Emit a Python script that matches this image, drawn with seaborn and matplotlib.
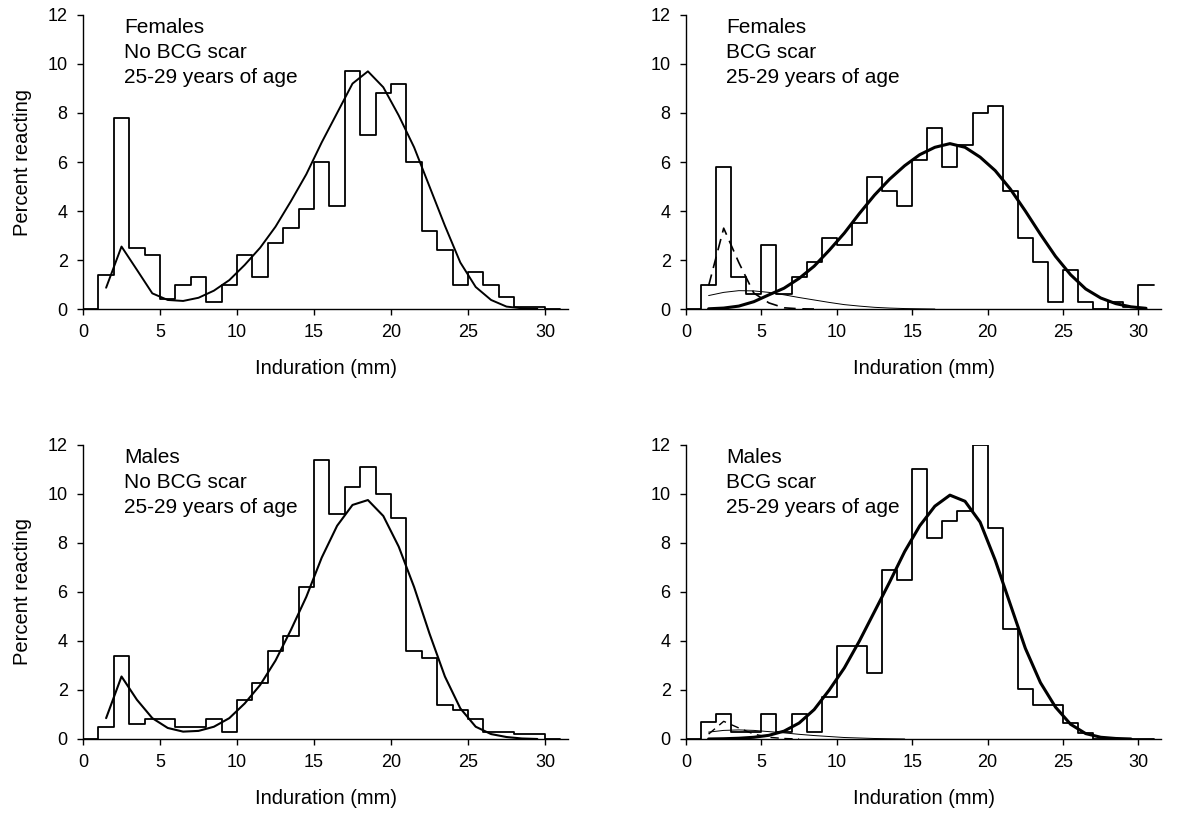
import numpy as np
import pandas as pd
import matplotlib
matplotlib.use("Agg")
import matplotlib.pyplot as plt
import seaborn as sns

# Histogram bins: lower edge of each 1 mm class (0..30)
bin_lower = [0, 1, 2, 3, 4, 5, 6, 7, 8, 9, 10, 11, 12, 13, 14, 15,
             16, 17, 18, 19, 20, 21, 22, 23, 24, 25, 26, 27, 28, 29, 30]

# Percent reacting per bin
f_noscar = [0, 1.4, 7.8, 2.5, 2.2, 0.4, 1.0, 1.3, 0.3, 1.0, 2.2, 1.3, 2.7, 3.3, 4.1, 6.0,
            4.2, 9.7, 7.1, 8.8, 9.2, 6.0, 3.2, 2.4, 1.0, 1.5, 1.0, 0.5, 0.1, 0.1, 0]
f_scar = [0, 1.0, 5.8, 1.3, 0.6, 2.6, 0.6, 1.3, 1.9, 2.9, 2.6, 3.5, 5.4, 4.8, 4.2, 6.1,
          7.4, 5.8, 6.7, 8.0, 8.3, 4.8, 2.9, 1.9, 0.3, 1.6, 0.3, 0, 0.3, 0.1, 1.0]
m_noscar = [0, 0.5, 3.4, 0.6, 0.8, 0.8, 0.5, 0.5, 0.8, 0.3, 1.6, 2.3, 3.6, 4.2, 6.2, 11.4,
            9.2, 10.3, 11.1, 10.0, 9.0, 3.6, 3.3, 1.4, 1.2, 0.8, 0.3, 0.3, 0.2, 0.2, 0]
m_scar = [0, 0.7, 1.0, 0.3, 0.3, 1.0, 0.3, 1.0, 0.3, 1.7, 3.8, 3.8, 2.7, 6.9, 6.5, 11.0,
          8.2, 8.9, 9.3, 12.0, 8.6, 4.5, 2.05, 1.4, 1.4, 0.65, 0.25, 0, 0, 0, 0]

# Fitted curves, evaluated at class midpoints
mid_mm = [1.5, 2.5, 3.5, 4.5, 5.5, 6.5, 7.5, 8.5, 9.5, 10.5, 11.5, 12.5, 13.5, 14.5, 15.5,
          16.5, 17.5, 18.5, 19.5, 20.5, 21.5, 22.5, 23.5, 24.5, 25.5, 26.5, 27.5, 28.5, 29.5, 30.5]

f_noscar_fit = [0.87, 2.55, 1.6, 0.64, 0.37, 0.33, 0.46, 0.75, 1.18, 1.8, 2.5, 3.36, 4.4, 5.5, 6.8,
                8.0, 9.2, 9.7, 9.05, 7.9, 6.6, 5.0, 3.4, 1.9, 0.9, 0.37, 0.1, 0.03, 0.01, None]
f_scar_main = [0.01, 0.04, 0.12, 0.3, 0.58, 0.85, 1.25, 1.75, 2.4, 3.1, 3.9, 4.65, 5.3, 5.85, 6.3,
               6.6, 6.75, 6.6, 6.2, 5.65, 4.9, 4.0, 3.05, 2.15, 1.4, 0.82, 0.45, 0.22, 0.09, 0.03]
f_scar_mid = [0.55, 0.68, 0.75, 0.74, 0.68, 0.58, 0.47, 0.37, 0.27, 0.18, 0.12, 0.07, 0.04, 0.02, 0.01,
              0, None, None, None, None, None, None, None, None, None, None, None, None, None, None]
f_scar_low = [0.95, 3.3, 1.9, 0.65, 0.25, 0.05, 0.01, 0, None, None, None, None, None, None, None,
              None, None, None, None, None, None, None, None, None, None, None, None, None, None, None]

m_noscar_fit = [0.85, 2.55, 1.6, 0.85, 0.45, 0.3, 0.33, 0.5, 0.85, 1.45, 2.2, 3.2, 4.45, 5.8, 7.4,
                8.7, 9.55, 9.75, 9.1, 7.85, 6.2, 4.3, 2.55, 1.25, 0.5, 0.2, 0.08, 0.02, 0, None]
m_scar_main = [0, 0.01, 0.03, 0.07, 0.15, 0.32, 0.65, 1.2, 2.0, 2.9, 4.0, 5.2, 6.4, 7.65, 8.7,
               9.5, 9.95, 9.7, 8.85, 7.3, 5.5, 3.7, 2.3, 1.3, 0.6, 0.22, 0.07, 0.02, 0, None]
m_scar_mid = [0.28, 0.35, 0.37, 0.35, 0.3, 0.25, 0.19, 0.14, 0.1, 0.06, 0.04, 0.02, 0.01, 0, None,
              None, None, None, None, None, None, None, None, None, None, None, None, None, None, None]
m_scar_low = [0.2, 0.72, 0.45, 0.2, 0.07, 0.02, 0, None, None, None, None, None, None, None, None,
              None, None, None, None, None, None, None, None, None, None, None, None, None, None, None]

panels = [
    ("Females\nNo BCG scar\n25-29 years of age", f_noscar, [(f_noscar_fit, 1.4, "-")]),
    ("Females\nBCG scar\n25-29 years of age", f_scar,
     [(f_scar_main, 2.2, "-"), (f_scar_mid, 0.7, "-"), (f_scar_low, 1.2, (0, (7, 4)))]),
    ("Males\nNo BCG scar\n25-29 years of age", m_noscar, [(m_noscar_fit, 1.5, "-")]),
    ("Males\nBCG scar\n25-29 years of age", m_scar,
     [(m_scar_main, 2.2, "-"), (m_scar_mid, 0.7, "-"), (m_scar_low, 1.0, (0, (6, 4)))]),
]

sns.set_theme(style="white")
plt.rcParams["font.family"] = ["Liberation Sans", "DejaVu Sans"]

fig = plt.figure(figsize=(11.86, 8.18), dpi=100)
rects = [
    [0.070, 0.6222, 0.409, 0.3595],
    [0.5784, 0.6222, 0.4006, 0.3595],
    [0.070, 0.0966, 0.409, 0.3595],
    [0.5784, 0.0966, 0.4006, 0.3595],
]

edges = bin_lower + [31]
centers = [b + 0.5 for b in bin_lower]

for i, (label, pct, curves) in enumerate(panels):
    ax = fig.add_axes(rects[i])
    sns.histplot(x=centers, weights=pct, bins=edges, element="step", fill=False,
                 color="black", linewidth=1.3, ax=ax)
    for vals, lw, ls in curves:
        cdf = pd.DataFrame({"x": mid_mm, "y": vals}).dropna()
        sns.lineplot(data=cdf, x="x", y="y", color="black", linewidth=lw,
                     linestyle=ls, ax=ax)

    ax.set_xlim(0, 31.5)
    ax.set_ylim(0, 12)
    ax.set_xticks([0, 5, 10, 15, 20, 25, 30])
    ax.set_yticks([0, 2, 4, 6, 8, 10, 12])
    for s in ["top", "right"]:
        ax.spines[s].set_visible(False)
    for s in ["left", "bottom"]:
        ax.spines[s].set_color("black")
        ax.spines[s].set_linewidth(1.0)
    ax.tick_params(axis="both", which="major", direction="out", length=4, width=1,
                   color="black", labelsize=13, labelcolor="black", pad=7, bottom=True, left=True)
    ax.set_xlabel("Induration (mm)", fontsize=14.5, color="black", labelpad=13)
    if i % 2 == 0:
        ax.set_ylabel("Percent reacting", fontsize=14.5, color="black", labelpad=11)
    else:
        ax.set_ylabel("")
    ax.text(0.085, 0.99, label, transform=ax.transAxes, fontsize=15, va="top",
            ha="left", linespacing=1.4, color="black")

fig.savefig("out.png", dpi=100)
